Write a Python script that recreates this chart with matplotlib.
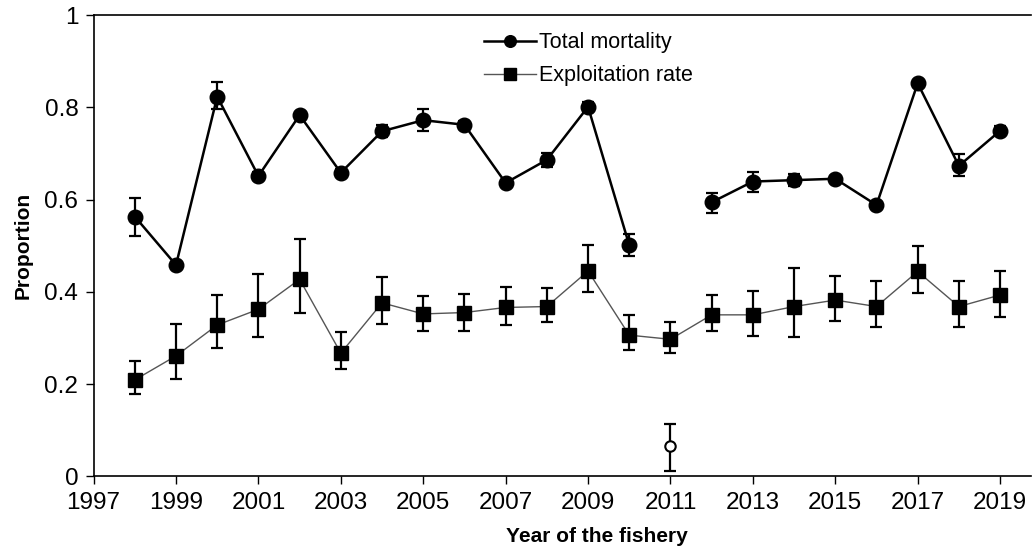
import numpy as np
import matplotlib
matplotlib.use("Agg")
from matplotlib import pyplot as plt

plt.rcParams['font.family'] = ['Liberation Sans', 'DejaVu Sans']

# data
years = list(range(1998, 2020))

# total mortality (2011 not estimated -> gap)
z_val = [0.563, 0.458, 0.823, 0.651, 0.783, 0.658, 0.748, 0.772, 0.762, 0.636, 0.686,
         0.801, 0.501, np.nan, 0.594, 0.639, 0.642, 0.645, 0.588, 0.852, 0.673, 0.749]
z_lo = [0.521, 0.458, 0.796, 0.643, 0.783, 0.650, 0.735, 0.748, 0.752, 0.636, 0.670,
        0.790, 0.477, np.nan, 0.570, 0.616, 0.630, 0.637, 0.588, 0.852, 0.652, 0.739]
z_hi = [0.604, 0.458, 0.855, 0.660, 0.783, 0.666, 0.762, 0.796, 0.771, 0.636, 0.700,
        0.812, 0.525, np.nan, 0.615, 0.659, 0.655, 0.652, 0.588, 0.852, 0.698, 0.760]

# exploitation rate
u_val = [0.209, 0.261, 0.328, 0.362, 0.427, 0.267, 0.376, 0.352, 0.355, 0.366, 0.368,
         0.445, 0.306, 0.297, 0.350, 0.350, 0.368, 0.382, 0.368, 0.444, 0.368, 0.393]
u_lo = [0.178, 0.210, 0.279, 0.301, 0.354, 0.232, 0.330, 0.315, 0.315, 0.327, 0.335,
        0.399, 0.274, 0.268, 0.314, 0.305, 0.301, 0.337, 0.323, 0.397, 0.323, 0.346]
u_hi = [0.251, 0.330, 0.393, 0.438, 0.515, 0.312, 0.432, 0.391, 0.395, 0.411, 0.408,
        0.501, 0.350, 0.334, 0.393, 0.402, 0.452, 0.434, 0.423, 0.500, 0.423, 0.445]

# 2011 total mortality shown separately (open circle)
odd_year = [2011]
odd_val = [0.066]
odd_lo = [0.012]
odd_hi = [0.113]

z_val = np.array(z_val); u_val = np.array(u_val)
z_err = [z_val - np.array(z_lo), np.array(z_hi) - z_val]
u_err = [u_val - np.array(u_lo), np.array(u_hi) - u_val]
o_err = [np.array(odd_val) - np.array(odd_lo), np.array(odd_hi) - np.array(odd_val)]

fig = plt.figure(figsize=(10.33, 5.5), dpi=100)
ax = fig.add_axes([93.6 / 1033, 73.7 / 550, 937.4 / 1033, 461.3 / 550])

# error bars
ax.errorbar(years, u_val, yerr=u_err, fmt='none', ecolor='black', elinewidth=1.6,
            capsize=4, capthick=1.6, zorder=2)
ax.errorbar(years, z_val, yerr=z_err, fmt='none', ecolor='black', elinewidth=1.6,
            capsize=4, capthick=1.6, zorder=2)
ax.errorbar(odd_year, odd_val, yerr=o_err, fmt='none', ecolor='black', elinewidth=1.6,
            capsize=4, capthick=1.6, zorder=2)

# lines + markers
ax.plot(years, z_val, color='black', lw=1.8, marker='o', ms=10.5, mfc='black',
        mec='black', label='Total mortality', zorder=3)
ax.plot(years, u_val, color='#555555', lw=1.0, marker='s', ms=10.5, mfc='black',
        mec='black', label='Exploitation rate', zorder=3)
ax.plot(odd_year, odd_val, ls='none', marker='o', ms=7.5, mfc='white', mec='black',
        mew=1.5, zorder=4)

ax.set_xlim(1997, 2019.75)
ax.set_ylim(0, 1)
ax.set_xticks(range(1997, 2020, 2))
ax.set_yticks([0, 0.2, 0.4, 0.6, 0.8, 1])
ax.set_yticklabels(['0', '0.2', '0.4', '0.6', '0.8', '1'])
ax.tick_params(axis='both', direction='out', length=6, width=1, labelsize=17.5, colors='black')
ax.tick_params(axis='x', pad=5)
ax.tick_params(axis='y', pad=5)
ax.spines['right'].set_visible(False)
for s in ['left', 'bottom', 'top']:
    ax.spines[s].set_linewidth(1.2)

ax.set_xlabel('Year of the fishery', fontsize=15, fontweight='bold')
ax.set_ylabel('Proportion', fontsize=15, fontweight='bold')
ax.xaxis.set_label_coords((597 - 93.6) / 937.4, -(536 - 476.3) / 461.3)
ax.yaxis.set_label_coords(-(93.6 - 23) / 937.4, (476.3 - 245) / 461.3)
ax.xaxis.label.set_va('center')
ax.yaxis.label.set_va('center')

leg = ax.legend(loc='upper left', bbox_to_anchor=(465 / 1033, 1 - 13 / 550),
                bbox_transform=fig.transFigure, frameon=False, fontsize=15.5,
                handlelength=2.4, handletextpad=0.15, labelspacing=0.55, markerscale=0.8)

fig.savefig('out.png', dpi=100)
